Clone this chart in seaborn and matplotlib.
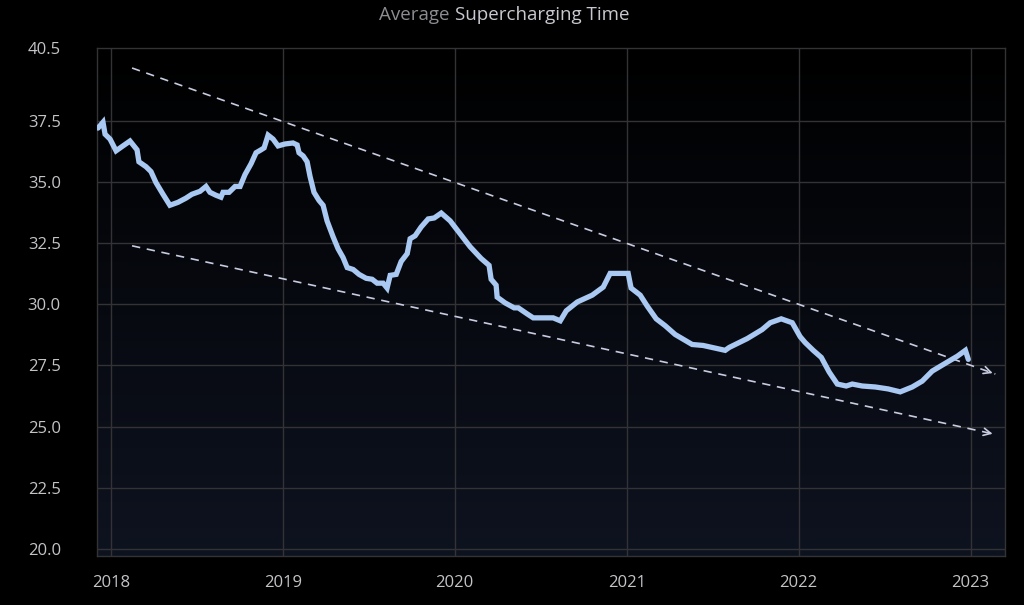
import numpy as np
import pandas as pd
import matplotlib
matplotlib.use("Agg")
import matplotlib.pyplot as plt
import seaborn as sns
from matplotlib.colors import LinearSegmentedColormap

# -----------------------------------------------------------------
# Datos (año decimal, minutos)
# -----------------------------------------------------------------
years = [2017.926, 2017.955, 2017.967, 2017.996, 2018.031, 2018.071, 2018.112, 2018.153,
         2018.164, 2018.205, 2018.234, 2018.263, 2018.304, 2018.344, 2018.391, 2018.437,
         2018.472, 2018.519, 2018.554, 2018.577, 2018.612, 2018.641, 2018.653, 2018.688,
         2018.723, 2018.752, 2018.781, 2018.816, 2018.845, 2018.874, 2018.892, 2018.915,
         2018.944, 2018.973, 2019.014, 2019.060, 2019.084, 2019.095, 2019.119, 2019.142,
         2019.159, 2019.182, 2019.211, 2019.235, 2019.258, 2019.293, 2019.322, 2019.351,
         2019.375, 2019.410, 2019.444, 2019.485, 2019.520, 2019.549, 2019.584, 2019.607,
         2019.625, 2019.660, 2019.689, 2019.724, 2019.741, 2019.770, 2019.805, 2019.846,
         2019.881, 2019.922, 2019.974, 2020.032, 2020.090, 2020.154, 2020.200, 2020.212,
         2020.241, 2020.247, 2020.294, 2020.346, 2020.370, 2020.422, 2020.457, 2020.573,
         2020.614, 2020.649, 2020.713, 2020.800, 2020.864, 2020.904, 2021.009, 2021.026,
         2021.079, 2021.119, 2021.172, 2021.224, 2021.282, 2021.381, 2021.445, 2021.573,
         2021.597, 2021.701, 2021.788, 2021.835, 2021.899, 2021.963, 2022.009, 2022.038,
         2022.085, 2022.132, 2022.178, 2022.225, 2022.277, 2022.312, 2022.370, 2022.446,
         2022.521, 2022.591, 2022.661, 2022.719, 2022.777, 2022.853, 2022.923, 2022.970,
         2022.987]
minutes = [37.22, 37.46, 36.97, 36.77, 36.29, 36.49, 36.69, 36.33,
           35.84, 35.64, 35.44, 34.99, 34.51, 34.06, 34.18, 34.35,
           34.51, 34.63, 34.83, 34.59, 34.47, 34.39, 34.59, 34.59,
           34.83, 34.83, 35.32, 35.76, 36.21, 36.33, 36.41, 36.93,
           36.77, 36.49, 36.57, 36.61, 36.53, 36.21, 36.08, 35.84,
           35.24, 34.59, 34.26, 34.06, 33.42, 32.77, 32.28, 31.92,
           31.51, 31.43, 31.23, 31.07, 31.03, 30.87, 30.87, 30.67,
           31.19, 31.23, 31.76, 32.08, 32.69, 32.81, 33.17, 33.50,
           33.54, 33.74, 33.42, 32.89, 32.36, 31.88, 31.60, 31.03,
           30.79, 30.30, 30.06, 29.86, 29.86, 29.61, 29.45, 29.45,
           29.33, 29.74, 30.10, 30.38, 30.71, 31.27, 31.27, 30.67,
           30.38, 29.94, 29.41, 29.13, 28.77, 28.36, 28.32, 28.12,
           28.24, 28.60, 28.97, 29.25, 29.41, 29.25, 28.68, 28.44,
           28.12, 27.83, 27.23, 26.74, 26.66, 26.74, 26.66, 26.62,
           26.54, 26.42, 26.62, 26.86, 27.27, 27.59, 27.88, 28.12,
           27.75]

# Líneas de tendencia (inicio, fin)
trend_x = [2018.124, 2023.144]
trend_upper = [39.68, 27.15]
trend_lower = [32.40, 24.68]

year_ticks = [2018, 2019, 2020, 2021, 2022, 2023]
y_ticks = [20.0, 22.5, 25.0, 27.5, 30.0, 32.5, 35.0, 37.5, 40.5]

df = pd.DataFrame({"year": years, "minutes": minutes})

# -----------------------------------------------------------------
# Estilo
# -----------------------------------------------------------------
sns.set_theme(style="dark")
plt.rcParams["font.family"] = ["Open Sans", "DejaVu Sans"]

LINE_COLOR = "#a9c8f2"
GRID_COLOR = "#333336"
TEXT_COLOR = "#c4c4c8"

fig = plt.figure(figsize=(10.24, 6.05), dpi=100, facecolor="black")
ax = fig.add_axes([0.0947, 0.081, 0.8867, 0.8397])

xlim = (2017.92, 2023.20)
ylim = (19.7, 40.5)

# fondo degradado negro -> azul oscuro
grad = np.linspace(0, 1, 256).reshape(-1, 1)
cmap = LinearSegmentedColormap.from_list("bg", ["#0e1320", "#000000"])
ax.imshow(grad, extent=[xlim[0], xlim[1], ylim[0], ylim[1]], origin="lower",
          aspect="auto", cmap=cmap, zorder=0)

ax.set_facecolor("black")
ax.set_xlim(*xlim)
ax.set_ylim(*ylim)

# Rejilla
for yv in y_ticks[:-1]:
    ax.axhline(yv, color=GRID_COLOR, linewidth=1.0, zorder=1)
for xv in year_ticks:
    ax.axvline(xv, color=GRID_COLOR, linewidth=1.0, zorder=1)

# Tendencias discontinuas con flecha
for ys in (trend_upper, trend_lower):
    ax.plot(trend_x, ys, color="#c8cce0", linestyle=(0, (5, 4)), linewidth=1.2, zorder=2)
    dx = trend_x[1] - trend_x[0]
    dy = ys[1] - ys[0]
    ax.annotate("", xy=(trend_x[1], ys[1]),
                xytext=(trend_x[1] - dx * 0.01, ys[1] - dy * 0.01),
                arrowprops=dict(arrowstyle="->", color="#c8cce0", lw=1.2,
                                mutation_scale=13), zorder=2)

# Serie principal
sns.lineplot(data=df, x="year", y="minutes", ax=ax, color=LINE_COLOR,
             linewidth=3.8, sort=False, zorder=3)
ax.lines[-1].set_solid_joinstyle("miter")

ax.set_xticks(year_ticks)
ax.set_xticklabels([str(y) for y in year_ticks])
ax.set_yticks(y_ticks)
ax.set_yticklabels([f"{v:.1f}" for v in y_ticks])
ax.tick_params(axis="both", length=0, colors=TEXT_COLOR, labelsize=12)
ax.tick_params(axis="y", pad=26)
ax.tick_params(axis="x", pad=14)
ax.set_xlabel("")
ax.set_ylabel("")
ax.grid(False)

for sp in ax.spines.values():
    sp.set_visible(True)
    sp.set_color(GRID_COLOR)
    sp.set_linewidth(1.0)

# Título en dos tonos
fig.text(0.4385, 0.975, "Average", ha="right", va="center", color="#8c8c92", fontsize=13.5)
fig.text(0.4445, 0.975, "Supercharging Time", ha="left", va="center", color="#c8c8d0", fontsize=13.5)

fig.savefig("out.png", dpi=100, facecolor="black")
